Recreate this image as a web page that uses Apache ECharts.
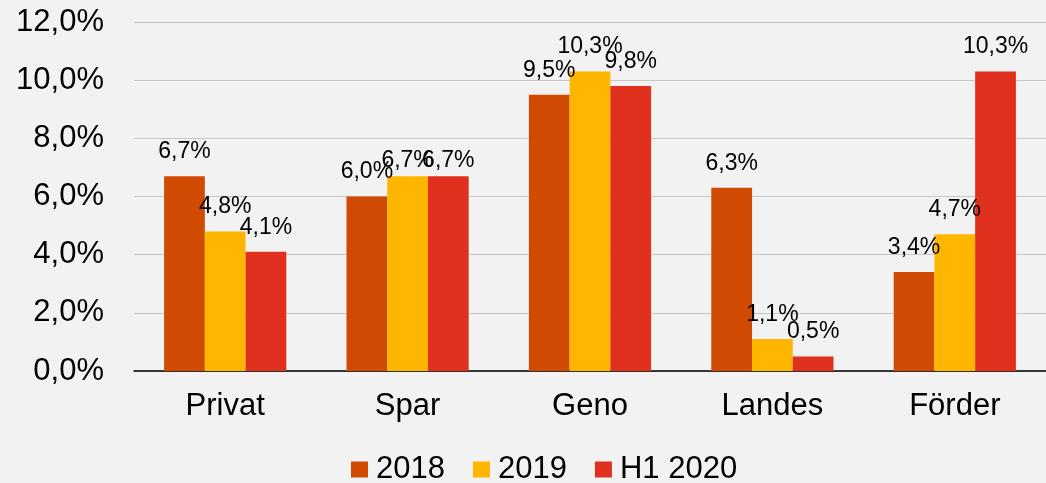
<!DOCTYPE html>
<html>
<head>
    <meta charset="utf-8">
    <script src="https://cdn.jsdelivr.net/npm/echarts@6/dist/echarts.min.js"></script>
    <style>
        html, body { margin: 0; padding: 0; background: #F2F2F2; }
    </style>
</head>
<body>
    <div id="main" style="width: 1046px; height: 483px"></div>
    <script type="text/javascript">
        var categories = ['Privat', 'Spar', 'Geno', 'Landes', 'Förder'];
        var seriesNames = ['2018', '2019', 'H1 2020'];
        var values2018 = [6.7, 6.0, 9.5, 6.3, 3.4];
        var values2019 = [4.8, 6.7, 10.3, 1.1, 4.7];
        var valuesH12020 = [4.1, 6.7, 9.8, 0.5, 10.3];
        var colors = ['#D04A02', '#FFB600', '#E0301E'];

        var font = '"Liberation Sans", Arial, sans-serif';

        function pct(v) {
            return v.toFixed(1).replace('.', ',') + '%';
        }

        window.onload = function () {
            var myChart = echarts.init(document.getElementById('main'));
            var allValues = [values2018, values2019, valuesH12020];
            var serie = [];
            for (var i = 0; i < allValues.length; i++) {
                var data = [];
                for (var j = 0; j < allValues[i].length; j++) {
                    var item = { value: allValues[i][j] };
                    // the two Spar labels sit a bit lower in the original
                    if (categories[j] == 'Spar' && i > 0) {
                        item.label = { distance: 4 };
                    }
                    data.push(item);
                }
                serie.push({
                    name: seriesNames[i],
                    type: 'bar',
                    barGap: '0%',
                    barCategoryGap: '33%',
                    itemStyle: {
                        color: colors[i]
                    },
                    label: {
                        show: true,
                        position: 'top',
                        distance: 13,
                        color: '#000',
                        fontFamily: font,
                        fontSize: 23,
                        formatter: function (p) { return pct(p.value); }
                    },
                    data: data
                });
            }

            var option = {
                backgroundColor: '#F2F2F2',
                animation: false,
                color: colors,
                grid: {
                    left: 134,
                    top: 22,
                    width: 918,
                    height: 349,
                    containLabel: false
                },
                legend: {
                    data: seriesNames,
                    left: 351,
                    top: 454,
                    padding: 0,
                    itemWidth: 17,
                    itemHeight: 16,
                    itemGap: 28,
                    icon: 'rect',
                    textStyle: {
                        color: '#000',
                        fontFamily: font,
                        fontSize: 31,
                        padding: [0, 0, 0, 3]
                    }
                },
                xAxis: {
                    type: 'category',
                    data: categories,
                    axisLine: { lineStyle: { color: '#000', width: 1.5 } },
                    axisTick: { show: false },
                    axisLabel: {
                        color: '#000',
                        fontFamily: font,
                        fontSize: 31,
                        margin: 20
                    }
                },
                yAxis: {
                    type: 'value',
                    min: 0,
                    max: 12,
                    interval: 2,
                    axisLine: { show: false },
                    axisTick: { show: false },
                    splitLine: { lineStyle: { color: '#C6C6C6', width: 1 } },
                    axisLabel: {
                        color: '#000',
                        fontFamily: font,
                        fontSize: 31,
                        margin: 30,
                        formatter: function (v) { return pct(v); }
                    }
                },
                series: serie
            };
            myChart.setOption(option);
        }
    </script>
</body>
</html>
